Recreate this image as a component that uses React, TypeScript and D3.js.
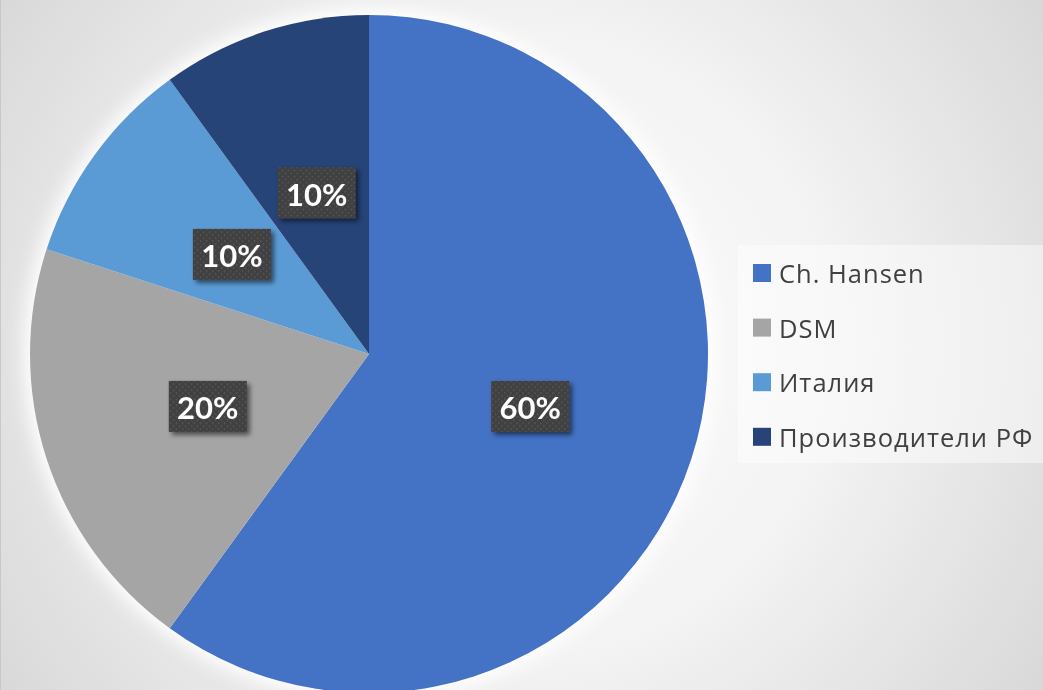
import React from "react";
import * as d3 from "d3";

const categories = ["Ch. Hansen", "DSM", "Италия", "Производители РФ"];
const values = [60, 20, 10, 10];
const labels = ["60%", "20%", "10%", "10%"];
const colors = ["#4472C4", "#A5A5A5", "#5B9BD5", "#264478"];

const W = 1043;
const H = 690;
const cx = 369;
const cy = 354;
const R = 339;

export default function App() {
  const data = categories.map((c, i) => ({ c, v: values[i], label: labels[i], color: colors[i] }));
  const pie = d3.pie<any>().value((d) => d.v).sort(null);
  const arcs = pie(data);
  const arc = d3.arc<any>().innerRadius(0).outerRadius(R);
  const boxW = 78;
  const boxH = 51;
  const legendX = 753;
  const legendY0 = 273;
  const legendStep = 54.6;
  const font = "Lato, 'Open Sans', sans-serif";
  const legendFont = "'Open Sans', 'Noto Sans', sans-serif";
  return (
    <div style={{ position: "fixed", left: 0, top: 0, width: W, height: H }}>
      <svg width={W} height={H} style={{ display: "block" }}>
        <defs>
          <radialGradient id="bg" cx={521} cy={345} r={630} gradientUnits="userSpaceOnUse">
            <stop offset="0" stopColor="#ffffff" />
            <stop offset="0.5" stopColor="#f3f3f3" />
            <stop offset="1" stopColor="#d8d8d8" />
          </radialGradient>
          <filter id="glow" x="-20%" y="-20%" width="140%" height="140%">
            <feGaussianBlur stdDeviation="9" />
          </filter>
          <filter id="shadow" x="-30%" y="-30%" width="160%" height="160%">
            <feGaussianBlur in="SourceAlpha" stdDeviation="2.5" />
            <feOffset dx="3" dy="3" result="ob" />
            <feComponentTransfer>
              <feFuncA type="linear" slope="0.55" />
            </feComponentTransfer>
            <feMerge>
              <feMergeNode />
              <feMergeNode in="SourceGraphic" />
            </feMerge>
          </filter>
          <pattern id="dots" width="6" height="6" patternUnits="userSpaceOnUse">
            <rect width="6" height="6" fill="#404040" />
            <rect x="1" y="1" width="1.4" height="1.4" fill="#5e5e5e" />
            <rect x="4" y="4" width="1.4" height="1.4" fill="#5e5e5e" />
          </pattern>
        </defs>
        <rect x={0} y={0} width={W} height={H} fill="url(#bg)" />
        <line x1={0.5} y1={0} x2={0.5} y2={H} stroke="#c8c8c8" strokeWidth={1} />
        <circle cx={cx} cy={cy} r={R + 6} fill="#ffffff" filter="url(#glow)" />
        <g transform={`translate(${cx},${cy})`}>
          {arcs.map((a, i) => (
            <path key={i} d={arc(a) as string} fill={a.data.color} />
          ))}
          {arcs.map((a, i) => {
            const [x, y] = arc.centroid(a);
            return (
              <g key={"l" + i} transform={`translate(${x},${y})`}>
                <rect x={-boxW / 2} y={-boxH / 2} width={boxW} height={boxH} fill="url(#dots)" filter="url(#shadow)" />
                <text
                  x={0}
                  y={1}
                  textAnchor="middle"
                  dominantBaseline="central"
                  fill="#ffffff"
                  fontFamily={font}
                  fontWeight={700}
                  fontSize={31}
                >
                  {a.data.label}
                </text>
              </g>
            );
          })}
        </g>
        <rect x={738} y={245} width={W - 738} height={218} fill="#ffffff" fillOpacity={0.45} />
        {categories.map((c, i) => (
          <g key={"lg" + i} transform={`translate(${legendX},${legendY0 + i * legendStep})`}>
            <rect x={0} y={-9} width={18} height={18} fill={colors[i]} />
            <text
              x={26}
              y={0}
              dominantBaseline="central"
              fill="#404040"
              fontFamily={legendFont}
              fontSize={25.5}
              letterSpacing={1}
            >
              {c}
            </text>
          </g>
        ))}
      </svg>
    </div>
  );
}
